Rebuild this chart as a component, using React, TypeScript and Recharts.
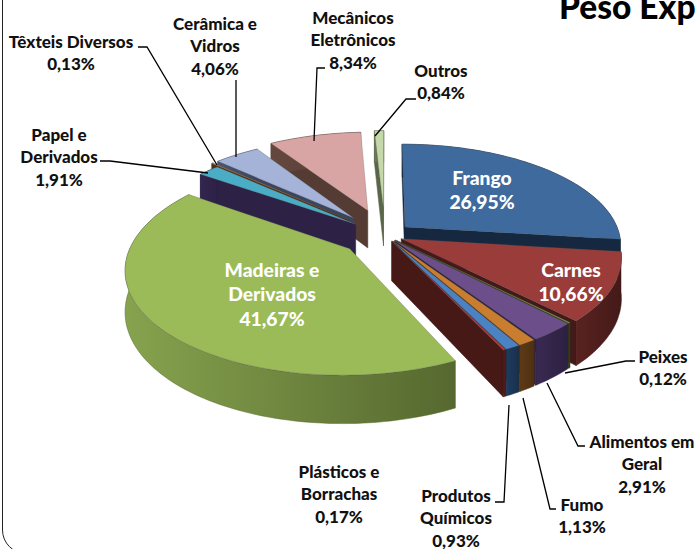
import { PieChart, Pie } from "recharts";

const categories = [
  "Frango",
  "Carnes",
  "Peixes",
  "Alimentos em Geral",
  "Fumo",
  "Produtos Químicos",
  "Plásticos e Borrachas",
  "Madeiras e Derivados",
  "Papel e Derivados",
  "Têxteis Diversos",
  "Cerâmica e Vidros",
  "Mecânicos Eletrônicos",
  "Outros",
];
const shares = [26.95, 10.66, 0.12, 2.91, 1.13, 0.93, 0.17, 41.67, 1.91, 0.13, 4.06, 8.34, 0.84];

const pieData = categories.map((name, i) => ({ name, value: shares[i] }));

// slice look
const topColors = ["#3e6a9e", "#9a3c3a", "#7f9a48", "#6c4f8a", "#c87d2f", "#4a82c4", "#a83c3a", "#9bbb59", "#4bacc6", "#c87d2f", "#a5b3d8", "#d9a5a4", "#c5d8a9"];
const wallLight = ["#1b304d", "#5a2220", "#3d4a22", "#3a2a52", "#5e3a17", "#1f3c5e", "#571f1d", "#86a34e", "#33254f", "#5e3a17", "#4a5570", "#64483f", "#6d7a58"];
const wallDark = ["#152840", "#431a18", "#2e381a", "#2c2040", "#4e3012", "#18304c", "#461816", "#56682f", "#2d2146", "#4e3012", "#3c4560", "#543c35", "#5a6648"];
const explode = [27, 18, 15, 15, 15, 15, 15, 45, 38, 50, 50, 58, 60];

// back slices first, one Pie per layer so the front ones paint over them
const drawLayers = [[12], [11], [10], [9], [8], [0, 1, 2, 3, 4, 5, 6, 7]];

const labelLines = [
  ["Frango", "26,95%"],
  ["Carnes", "10,66%"],
  ["Peixes", "0,12%"],
  ["Alimentos em", "Geral", "2,91%"],
  ["Fumo", "1,13%"],
  ["Produtos", "Químicos", "0,93%"],
  ["Plásticos e", "Borrachas", "0,17%"],
  ["Madeiras e", "Derivados", "41,67%"],
  ["Papel e", "Derivados", "1,91%"],
  ["Têxteis Diversos", "0,13%"],
  ["Cerâmica e", "Vidros", "4,06%"],
  ["Mecânicos", "Eletrônicos", "8,34%"],
  ["Outros", "0,84%"],
];
const labelAnchors = [
  [482, 178], [571, 270], [663, 357], [642, 442], [582, 505], [456, 496], [339, 472],
  [272, 270], [59, 135], [71, 42], [215, 24], [353, 18], [441, 71],
];
const leaders = [
  null, null,
  "635,361 626,361 565,373",
  "585,446 578,446 547,383",
  "556,509 550,509 523,398",
  "495,502 504,502 509,405",
  null, null,
  "100,161 110,161 208,173",
  "138,47 147,47 217,165",
  "236,80 236,157",
  "325,68 317,68 314,141",
  "416,99 406,99 375,136",
];

const TILT = 0.4625;
const VIEW_DIST = 1254;
const DEPTH = 39;

const Slice3D = (props: any) => {
  const { cx, cy, outerRadius, startAngle, endAngle, name, layer } = props;
  const idx = categories.indexOf(name);
  if (!layer.includes(idx)) return null;

  const rad = (a: number) => (a * Math.PI) / 180;
  const mid = rad((startAngle + endAngle) / 2);
  const ox = explode[idx] * Math.cos(mid);
  const oy = -explode[idx] * Math.sin(mid);

  const project = (r: number, deg: number, z: number) => {
    const dx = ox + r * Math.cos(rad(deg));
    const dy = oy - r * Math.sin(rad(deg));
    const f = 1 / (1 - dy / VIEW_DIST);
    return [cx + dx * f, cy + TILT * dy * f + z * f];
  };

  const steps = Math.max(2, Math.ceil(Math.abs(endAngle - startAngle) / 1.5));
  const arcAngles = Array.from({ length: steps + 1 }, (_, i) => startAngle + ((endAngle - startAngle) * i) / steps);
  const toPath = (pts: number[][]) => "M" + pts.map((p) => `${p[0].toFixed(1)},${p[1].toFixed(1)}`).join("L") + "Z";

  const topPts = [project(0, 0, 0), ...arcAngles.map((a) => project(outerRadius, a, 0))];
  const rimTop = arcAngles.map((a) => project(outerRadius, a, 0));
  const rimBottom = arcAngles.map((a) => project(outerRadius, a, DEPTH)).reverse();
  const cutWall = (a: number) => toPath([project(0, 0, 0), project(outerRadius, a, 0), project(outerRadius, a, DEPTH), project(0, 0, DEPTH)]);

  const apex = project(0, 0, 0);
  const startVisible = project(outerRadius, startAngle, 0)[0] < apex[0];
  const endVisible = project(outerRadius, endAngle, 0)[0] > apex[0];
  const gradId = `rim-${idx}`;

  return (
    <g>
      <defs>
        <linearGradient id={gradId} x1="0" y1="0" x2="1" y2="0">
          <stop offset="0%" stopColor={wallLight[idx]} />
          <stop offset="100%" stopColor={wallDark[idx]} />
        </linearGradient>
      </defs>
      {startVisible && <path d={cutWall(startAngle)} fill={wallDark[idx]} stroke={wallDark[idx]} strokeWidth={0.5} />}
      {endVisible && <path d={cutWall(endAngle)} fill={wallDark[idx]} stroke={wallDark[idx]} strokeWidth={0.5} />}
      <path d={toPath([...rimTop, ...rimBottom])} fill={`url(#${gradId})`} stroke={wallDark[idx]} strokeWidth={0.5} />
      <path d={toPath(topPts)} fill={topColors[idx]} stroke="#555" strokeOpacity={0.45} strokeWidth={0.6} />
    </g>
  );
};

const whiteLabels = [0, 1, 7];

const SliceLabel = (props: any) => {
  const idx = categories.indexOf(props.name);
  const [x, y] = labelAnchors[idx];
  const inside = whiteLabels.includes(idx);
  const step = inside ? 24.5 : 22.5;
  return (
    <g>
      {leaders[idx] && <polyline points={leaders[idx]!} fill="none" stroke="#000" strokeWidth={1.3} />}
      <text
        x={x}
        y={y}
        textAnchor="middle"
        fontFamily="Lato"
        fontWeight={900}
        fontSize={inside ? 19.3 : 17}
        fill={inside ? "#fff" : "#111"}
      >
        {labelLines[idx].map((line, i) => (
          <tspan key={line} x={x} y={y + i * step} dy="0.35em">
            {line}
          </tspan>
        ))}
      </text>
    </g>
  );
};

const App = () => {
  return (
    <div style={{ position: "absolute", left: 0, top: 0, width: 696, height: 549, overflow: "hidden", background: "#fff" }}>
      <div
        style={{
          position: "absolute",
          left: 2,
          top: -30,
          width: 800,
          height: 584,
          border: "1.5px solid #222",
          borderRadius: 24,
          boxSizing: "border-box",
        }}
      />
      <div
        style={{
          position: "absolute",
          left: 559,
          top: -14,
          fontFamily: "Lato",
          fontWeight: 900,
          fontSize: 33.5,
          color: "#000",
          whiteSpace: "nowrap",
        }}
      >
        Peso Exp
      </div>
      <div style={{ position: "absolute", left: 0, top: 0 }}>
        <PieChart width={696} height={549} margin={{ top: 0, right: 0, bottom: 0, left: 0 }}>
          {drawLayers.map((layer, i) => (
            <Pie
              key={i}
              data={pieData}
              dataKey="value"
              nameKey="name"
              cx={385}
              cy={235}
              outerRadius={215}
              startAngle={90}
              endAngle={-270}
              stroke="none"
              isAnimationActive={false}
              shape={(p: any) => <Slice3D {...p} layer={layer} />}
              label={i === drawLayers.length - 1 ? SliceLabel : false}
              labelLine={false}
            />
          ))}
        </PieChart>
      </div>
    </div>
  );
};

export default App;
